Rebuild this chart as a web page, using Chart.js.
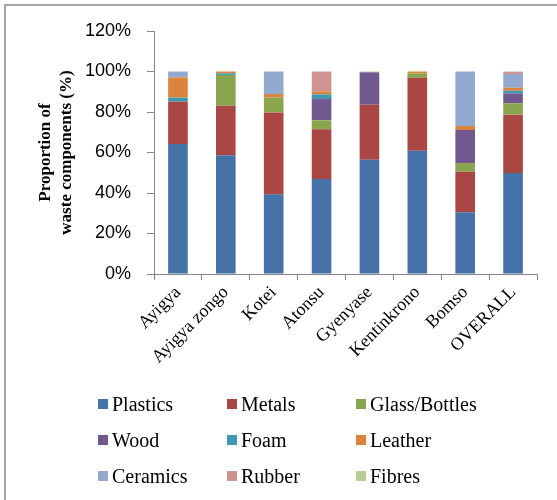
<!DOCTYPE html>
<html>
<head>
<meta charset="utf-8">
<script src="https://cdn.jsdelivr.net/npm/chart.js@4"></script>
<style>
  html, body { margin: 0; padding: 0; background: #fff; overflow: hidden; }
  #wrap { position: relative; width: 557px; height: 500px; }
  #frame { position: absolute; left: 4px; top: 4px; width: 620px; height: 620px; border: 2px solid #a6a6a6; box-sizing: border-box; }
  #waste-chart { position: absolute; left: 0; top: 0; }
  #legend {
    position: absolute; left: 98px; top: 386px;
    display: grid; grid-template-columns: 129px 129px 129px; grid-auto-rows: 36px;
    font-family: "Liberation Serif", "Times New Roman", serif; font-size: 20px; color: #000;
  }
  #legend .item { display: flex; align-items: center; white-space: nowrap; }
  #legend .box { width: 10px; height: 10px; margin-right: 4px; flex: none; }
</style>
</head>
<body>
<div id="wrap">
  <div id="frame"></div>
  <canvas id="waste-chart" width="557" height="500"></canvas>
  <div id="legend"></div>
</div>
<script>
const sites = ['Ayigya', 'Ayigya zongo', 'Kotei', 'Atonsu', 'Gyenyase', 'Kentinkrono', 'Bomso', 'OVERALL'];

const plastics = [64.2, 58.6, 39.4, 46.9, 56.4, 60.9, 30.5, 49.9];
const metals   = [20.9, 24.5, 40.4, 24.6, 27.2, 36.0, 20.0, 28.8];
const glass    = [0, 15.2, 7.3, 4.4, 0, 2.2, 4.3, 5.6];
const wood     = [0, 0, 0, 10.5, 16.0, 0, 16.3, 4.9];
const foam     = [2.0, 0.8, 0, 2.3, 0, 0, 0, 1.3];
const leather  = [10.0, 0.9, 1.8, 1.5, 0, 0.9, 2.0, 1.5];
const ceramics = [2.9, 0, 11.1, 0, 0, 0, 26.9, 6.8];
const rubber   = [0, 0, 0, 9.8, 0, 0, 0, 1.1];
const fibres   = [0, 0, 0, 0, 0.4, 0, 0, 0.1];

const yTicks = [0, 20, 40, 60, 80, 100, 120];

const series = [
  {label: 'Plastics', data: plastics, color: '#4572A7'},
  {label: 'Metals', data: metals, color: '#AA4643'},
  {label: 'Glass/Bottles', data: glass, color: '#89A54E'},
  {label: 'Wood', data: wood, color: '#71588F'},
  {label: 'Foam', data: foam, color: '#4198AF'},
  {label: 'Leather', data: leather, color: '#DB843D'},
  {label: 'Ceramics', data: ceramics, color: '#93A9CF'},
  {label: 'Rubber', data: rubber, color: '#D19392'},
  {label: 'Fibres', data: fibres, color: '#B9CD96'},
];

const serif = '"Liberation Serif", "Times New Roman", serif';

// html legend, 3 columns, filled from the chart's datasets
const htmlLegend = {
  id: 'htmlLegend',
  afterUpdate(chart) {
    const box = document.querySelector('#legend');
    box.innerHTML = '';
    chart.data.datasets.forEach((ds) => {
      const item = document.createElement('div');
      item.className = 'item';
      const swatch = document.createElement('span');
      swatch.className = 'box';
      swatch.style.background = ds.backgroundColor;
      item.appendChild(swatch);
      item.appendChild(document.createTextNode(ds.label));
      box.appendChild(item);
    });
  },
};

const chartCtx = document.querySelector('#waste-chart').getContext('2d');

new Chart(chartCtx, {
  type: 'bar',
  data: {
    labels: sites,
    datasets: series.map((s) => ({
      label: s.label,
      data: s.data,
      backgroundColor: s.color,
      borderWidth: 0,
      barPercentage: 0.41,
      categoryPercentage: 1,
    })),
  },
  plugins: [htmlLegend],
  options: {
    responsive: false,
    animation: false,
    layout: {
      padding: {top: 31, right: 20, left: 35, bottom: 126},
    },
    scales: {
      x: {
        stacked: true,
        grid: {
          drawOnChartArea: false,
          drawTicks: true,
          tickLength: 6,
          color: '#868686',
        },
        border: {display: true, color: '#868686'},
        ticks: {
          minRotation: 45,
          maxRotation: 45,
          padding: 2,
          color: '#000',
          font: {family: serif, size: 18},
        },
        afterFit(scale) {
          scale.height = 100;
        },
      },
      y: {
        stacked: true,
        min: 0,
        max: 120,
        afterBuildTicks(scale) {
          scale.ticks = yTicks.map((v) => ({value: v}));
        },
        grid: {
          drawOnChartArea: false,
          drawTicks: true,
          tickLength: 7,
          color: '#868686',
        },
        border: {display: true, color: '#868686'},
        ticks: {
          padding: 16,
          color: '#000',
          font: {family: '"Liberation Sans", Arial, sans-serif', size: 18},
          callback: (v) => v + '%',
        },
        title: {
          display: true,
          text: ['Proportion of', 'waste components (%)'],
          color: '#000',
          font: {family: serif, size: 17, weight: 'bold', lineHeight: 1.25},
          padding: 0,
        },
        afterFit(scale) {
          scale.width = 119;
        },
      },
    },
    plugins: {
      legend: {display: false},
      tooltip: {enabled: false},
    },
  },
});
</script>
</body>
</html>
